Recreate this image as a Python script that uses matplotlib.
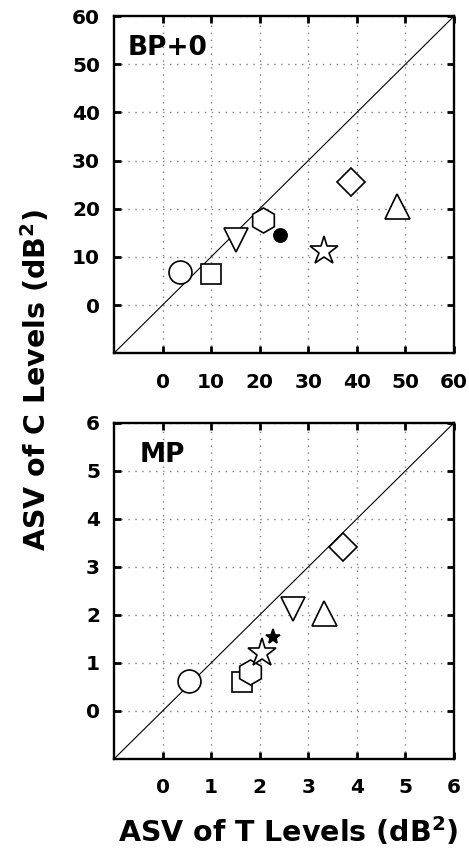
import matplotlib
matplotlib.use("Agg")
import matplotlib.pyplot as plt

plt.rcParams['font.family'] = ['DejaVu Sans']
plt.rcParams['font.weight'] = 'bold'
plt.rcParams['mathtext.fontset'] = 'dejavusans'

# BP+0 panel: ASV of T levels (x) vs ASV of C levels (y)
bp_markers = ['o', 's', 'v', 'h', 'o', '*', 'D', '^']
bp_filled = [False, False, False, False, True, False, False, False]
bp_sizes = [16.5, 14, 17, 18, 9.5, 21, 14, 18]
bp_t = [3.6, 10.0, 15.1, 20.6, 24.2, 33.3, 38.7, 48.2]
bp_c = [6.8, 6.4, 13.5, 17.7, 14.6, 11.2, 25.6, 20.6]

# MP panel
mp_markers = ['o', 's', 'h', '*', '*', 'v', '^', 'D']
mp_filled = [False, False, False, False, True, False, False, False]
mp_sizes = [16.5, 14, 18, 21, 11, 17, 18, 14]
mp_t = [0.54, 1.63, 1.80, 2.05, 2.27, 2.69, 3.32, 3.72]
mp_c = [0.63, 0.61, 0.81, 1.20, 1.53, 2.12, 2.05, 3.42]

bp_ticks = [0, 10, 20, 30, 40, 50, 60]
mp_ticks = [0, 1, 2, 3, 4, 5, 6]

fig = plt.figure(figsize=(4.69, 8.49), dpi=100)
ax1 = fig.add_axes([0.243, 0.584, 0.725, 0.397])
ax2 = fig.add_axes([0.243, 0.106, 0.725, 0.396])


def draw_panel(ax, xs, ys, markers, filled, sizes, ticks, lo, title, tx):
    ax.plot([lo, ticks[-1]], [lo, ticks[-1]], color='black', lw=0.8, zorder=2)
    for x, y, m, f, s in zip(xs, ys, markers, filled, sizes):
        ax.plot(x, y, marker=m, markersize=s, markeredgewidth=1.2,
                markeredgecolor='black', markerfacecolor='black' if f else 'white',
                linestyle='none', zorder=3)
    ax.set_xlim(lo, ticks[-1])
    ax.set_ylim(lo, ticks[-1])
    ax.set_xticks(ticks)
    ax.set_yticks(ticks)
    ax.tick_params(direction='in', length=5, width=2, top=True, right=True,
                   labelsize=14.5)
    ax.tick_params(axis='x', pad=14)
    ax.tick_params(axis='y', pad=10)
    for lab in ax.get_xticklabels() + ax.get_yticklabels():
        lab.set_fontweight('bold')
    for sp in ax.spines.values():
        sp.set_linewidth(1.7)
    ax.grid(True, color='gray', linestyle=(0, (1, 4)), linewidth=1.0)
    ax.set_axisbelow(True)
    ax.text(tx, 0.905, title, transform=ax.transAxes, fontsize=19,
            fontweight='bold', va='center', ha='left')


draw_panel(ax1, bp_t, bp_c, bp_markers, bp_filled, bp_sizes, bp_ticks, -10, 'BP+0', 0.04)
draw_panel(ax2, mp_t, mp_c, mp_markers, mp_filled, mp_sizes, mp_ticks, -1, 'MP', 0.075)

fig.text(0.076, 0.552, r'ASV of C Levels (dB$^{\mathbf{2}}$)', rotation=90, fontsize=20.5,
         fontweight='bold', ha='center', va='center')
fig.text(0.614, 0.008, r'ASV of T Levels (dB$^{\mathbf{2}}$)', fontsize=20.5,
         fontweight='bold', ha='center', va='baseline')

fig.savefig('out.png', dpi=100)
